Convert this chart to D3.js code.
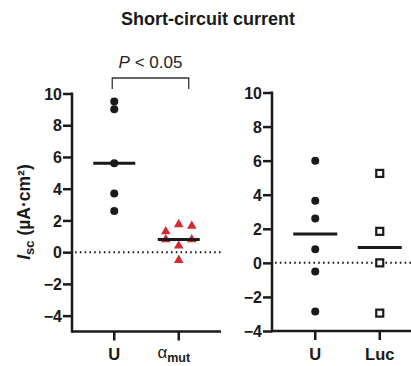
<!DOCTYPE html>
<html><head><meta charset="utf-8">
<script src="https://cdn.jsdelivr.net/npm/d3@7"></script>
<style>body{margin:0;background:#fff;} svg{display:block;font-family:"Liberation Sans",Arial,sans-serif;}</style>
</head><body>
<svg id="c" width="411" height="366"></svg>
<script>
// Data
const leftCategories = ["U", "amut"];
const leftU = [9.5, 9.0, 5.6, 3.7, 2.6];
const leftAmut = [1.3, 1.75, 1.65, 0.8, 0.8, 0.4, -0.5];
const leftAmutOffsets = [-1, 0, 1, -1, 1, 0, 0]; // jitter columns
const leftMedians = [5.6, 0.8];
const leftTicks = [-4, -2, 0, 2, 4, 6, 8, 10];

const rightCategories = ["U", "Luc"];
const rightU = [6.0, 3.65, 2.6, 0.8, -0.5, -2.85];
const rightLuc = [5.25, 1.85, 0.0, -2.95];
const rightMedians = [1.7, 0.9];
const rightTicks = [-4, -2, 0, 2, 4, 6, 8, 10];

const svg = d3.select("#c");
const ink = "#1a1a1a";

// Title
svg.append("text").attr("x", 208).attr("y", 25).attr("text-anchor", "middle")
  .style("font-size", "18px").attr("font-weight", "bold").attr("fill", ink).text("Short-circuit current");

const yL = d3.scaleLinear().domain([-5, 10]).range([331.5, 93.5]);
const xL = d3.scaleBand().domain(leftCategories).range([82, 211]).padding(0);
const xLc = c => xL(c) + xL.bandwidth() / 2;

const yR = d3.scaleLinear().domain([-4, 10]).range([331, 92.5]);
const xR = d3.scaleBand().domain(rightCategories).range([283, 412]).padding(0);
const xRc = c => xR(c) + xR.bandwidth() / 2;

function drawAxes(y, x0, x1, ticks, xs, xcats) {
  svg.append("line").attr("x1", x0 + 3).attr("x2", x1).attr("y1", y(0)).attr("y2", y(0))
    .attr("stroke", ink).attr("stroke-width", 2).attr("stroke-dasharray", "1.6,3.2");
  const ax = d3.axisLeft(y).tickValues(ticks).tickSize(9).tickPadding(1)
    .tickFormat(d => d < 0 ? "\u2212" + Math.abs(d) : d);
  const g = svg.append("g").attr("transform", `translate(${x0},0)`).call(ax);
  g.select(".domain").remove();
  g.attr("font-size", null).attr("font-family", null);
  g.selectAll(".tick line").attr("stroke", ink).attr("stroke-width", 2.5);
  g.selectAll(".tick text").style("font-size", "16px").style("font-weight", "bold")
    .style("font-family", "'Liberation Sans',Arial,sans-serif").attr("fill", ink)
    .attr("dy", "0.36em");
  const yb = y.range()[0];
  svg.append("line").attr("x1", x0).attr("x2", x0).attr("y1", y.range()[1] - 1).attr("y2", yb + 1.25)
    .attr("stroke", ink).attr("stroke-width", 2.5);
  svg.append("line").attr("x1", x0).attr("x2", x1).attr("y1", yb).attr("y2", yb)
    .attr("stroke", ink).attr("stroke-width", 2.5);
  xcats.forEach(c => {
    svg.append("line").attr("x1", xs(c)).attr("x2", xs(c)).attr("y1", yb).attr("y2", yb + 9)
      .attr("stroke", ink).attr("stroke-width", 2.5);
  });
}

drawAxes(yL, 72, 221, leftTicks, xLc, leftCategories);
drawAxes(yR, 272, 411, rightTicks, xRc, rightCategories);

// Left: U dots
svg.append("g").selectAll("circle").data(leftU).join("circle")
  .attr("cx", xLc("U")).attr("cy", d => yL(d)).attr("r", 4).attr("fill", ink);
// Left: amut triangles
const tri = d3.symbol().type(d3.symbolTriangle).size(40);
svg.append("g").selectAll("path").data(leftAmut).join("path")
  .attr("d", tri)
  .attr("transform", (d, i) => `translate(${xLc("amut") + leftAmutOffsets[i] * 13},${yL(d)})`)
  .attr("fill", "#d42a35");
leftCategories.forEach((c, i) => {
  svg.append("line").attr("x1", xLc(c) - 21).attr("x2", xLc(c) + 21)
    .attr("y1", yL(leftMedians[i])).attr("y2", yL(leftMedians[i]))
    .attr("stroke", ink).attr("stroke-width", 3);
});

// Right: U dots
svg.append("g").selectAll("circle").data(rightU).join("circle")
  .attr("cx", xRc("U")).attr("cy", d => yR(d)).attr("r", 4).attr("fill", ink);
// Right: Luc squares
svg.append("g").selectAll("rect").data(rightLuc).join("rect")
  .attr("x", xRc("Luc") - 3.5).attr("y", d => yR(d) - 3.5).attr("width", 7).attr("height", 7)
  .attr("fill", "#fff").attr("stroke", ink).attr("stroke-width", 2.2);
rightCategories.forEach((c, i) => {
  svg.append("line").attr("x1", xRc(c) - 22).attr("x2", xRc(c) + 22)
    .attr("y1", yR(rightMedians[i])).attr("y2", yR(rightMedians[i]))
    .attr("stroke", ink).attr("stroke-width", 3);
});

// x labels
const xl = svg.append("g").style("font-size", "16.5px").attr("fill", ink).attr("font-weight", "bold");
xl.append("text").attr("x", xLc("U")).attr("y", 360).attr("text-anchor", "middle").text("U");
const am = xl.append("text").attr("x", xLc("amut") - 5).attr("y", 358).attr("text-anchor", "middle");
am.append("tspan").attr("font-weight", "normal").style("font-size", "17px").text("\u03b1");
am.append("tspan").style("font-size", "12.5px").attr("dy", 4).text("mut");
xl.append("text").attr("x", xRc("U")).attr("y", 360).attr("text-anchor", "middle").text("U");
xl.append("text").attr("x", xRc("Luc")).attr("y", 360).attr("text-anchor", "middle").text("Luc");

// bracket
const bx0 = xLc("U") - 2, bx1 = xLc("amut") + 10;
svg.append("path").attr("d", `M${bx0},89 V78 H${bx1} V89`).attr("fill", "none")
  .attr("stroke", "#333").attr("stroke-width", 1.3);
const pt = svg.append("text").attr("x", (bx0 + bx1) / 2).attr("y", 68).attr("text-anchor", "middle")
  .style("font-size", "17px").attr("fill", "#222");
pt.append("tspan").attr("font-style", "italic").text("P");
pt.append("tspan").text(" < 0.05");

// y label
const yl = svg.append("text").attr("transform", "translate(30,212) rotate(-90)")
  .attr("text-anchor", "middle").style("font-size", "17.5px").attr("font-weight", "bold").attr("fill", ink);
yl.append("tspan").attr("font-style", "italic").text("I");
yl.append("tspan").style("font-size", "13px").attr("dy", 4).text("sc");
yl.append("tspan").attr("dy", -4).text(" (\u00b5A\u00b7cm\u00b2)");
</script>
</body></html>
